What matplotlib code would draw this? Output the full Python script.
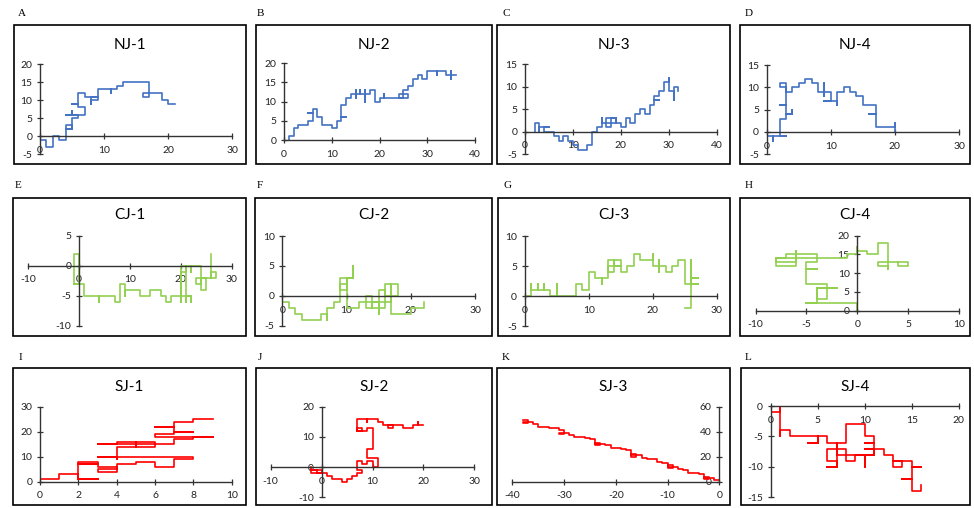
import numpy as np
import matplotlib.pyplot as plt
from matplotlib.patches import Rectangle

plt.rcParams['axes.unicode_minus'] = False
plt.rcParams['font.family'] = ['Lato', 'DejaVu Sans']

W, H = 974, 508

letters = ['A', 'B', 'C', 'D', 'E', 'F', 'G', 'H', 'I', 'J', 'K', 'L']
titles = ['NJ-1', 'NJ-2', 'NJ-3', 'NJ-4', 'CJ-1', 'CJ-2', 'CJ-3', 'CJ-4',
          'SJ-1', 'SJ-2', 'SJ-3', 'SJ-4']

# walk paths (x and y of each vertex)
nj1_x = [0, 0, 1, 1, 2, 2, 3, 3, 4, 4, 5, 5, 4, 5, 5, 6, 6, 4, 5, 5, 5, 7, 7, 6, 6, 5, 6, 6, 7, 7,
         9, 8, 8, 8, 9, 9, 11, 11, 11, 12, 12, 13, 13, 17, 17, 16, 16, 19, 19, 20, 20, 21]
nj1_y = [0, -1, -1, -3, -3, 0, 0, -1, -1, 3, 3, 2, 2, 2, 5, 5, 6, 6, 6, 7, 6, 6, 8, 8, 9, 9, 9, 12, 12, 11,
         11, 11, 9, 10, 10, 13, 13, 12, 13, 13, 14, 14, 15, 15, 11, 11, 12, 12, 10, 10, 9, 9]

nj2_x = [1, 1, 2, 2, 3, 3, 5, 5, 6, 6, 5, 6, 6, 7, 7, 8, 8, 10, 10, 11,
         11, 12, 12, 13, 12, 12, 13, 13, 14, 14, 15, 15, 15, 15, 16, 16, 16, 17, 17, 17,
         17, 18, 18, 19, 19, 20, 20, 21, 21, 21, 26, 26, 24, 24, 25, 25, 26, 26, 27, 27,
         28, 28, 29, 29, 30, 30, 32, 32, 32, 34, 34, 35, 35, 35, 35, 36]
nj2_y = [0, 1, 1, 3, 3, 4, 4, 5, 5, 7, 7, 7, 8, 8, 6, 6, 4, 4, 3, 3,
         5, 5, 6, 6, 6, 9, 9, 11, 11, 12, 12, 13, 11, 12, 12, 13, 12, 12, 10, 13,
         12, 12, 13, 13, 10, 10, 11, 11, 12, 11, 11, 12, 12, 11, 11, 13, 13, 14, 14, 16,
         16, 17, 17, 16, 16, 18, 18, 17, 18, 18, 17, 17, 16, 18, 17, 17]

nj3_x = [2, 2, 3, 3, 3, 5, 4, 4, 5, 6, 6, 7, 7, 8, 8, 9, 9, 10, 10, 11,
         11, 13, 13, 14, 14, 15, 15, 16, 16, 16, 17, 17, 18, 18, 17, 17, 19, 19, 18, 19,
         19, 20, 20, 21, 21, 22, 22, 23, 23, 24, 24, 25, 25, 26, 26, 27, 27, 28, 27, 27,
         28, 28, 29, 29, 30, 30, 30, 31, 31, 31, 32, 32]
nj3_y = [0, 2, 2, 0, 1, 1, 1, 0, 0, 0, -1, -1, -2, -2, -1, -1, -2, -2, -3, -3,
         -4, -4, -3, -3, 0, 0, 1, 1, 3, 2, 2, 1, 1, 3, 3, 2, 2, 3, 3, 3,
         2, 2, 1, 1, 3, 3, 2, 2, 4, 4, 5, 5, 4, 4, 6, 6, 7, 7, 7, 8,
         8, 9, 9, 11, 11, 12, 9, 9, 7, 10, 10, 9]

nj4_x = [0, 0, 1, 1, 1, 3, 2, 2, 3, 3, 4, 4, 4, 3, 3, 2, 3, 3, 2, 2,
         3, 3, 4, 4, 5, 5, 6, 6, 7, 7, 8, 8, 9, 9, 9, 9, 10, 10, 9, 11,
         11, 11, 12, 12, 13, 13, 14, 14, 15, 15, 17, 17, 16, 17, 17, 20, 20, 20]
nj4_y = [0, -1, -1, -2, -1, -1, -1, 3, 3, 4, 4, 5, 4, 4, 6, 6, 6, 10, 10, 11,
         11, 9, 9, 10, 10, 11, 11, 12, 12, 11, 11, 9, 9, 8, 11, 9, 9, 7, 7, 7,
         6, 9, 9, 10, 10, 9, 9, 8, 8, 6, 6, 4, 4, 4, 1, 1, 2, 0]

cj1_x = [-1, -1, 0, 0, -1, 0, 1, 1, 4, 4, 4, 7, 7, 8, 8, 9, 9, 9, 12, 12,
         14, 14, 16, 16, 17, 17, 18, 18, 22, 22, 22, 21, 21, 21, 20, 20, 20, 21, 21, 22,
         22, 22, 24, 24, 23, 23, 25, 25, 24, 24, 26, 26, 27, 27, 26, 26]
cj1_y = [-3, 2, 2, -3, -3, -3, -3, -5, -5, -6, -5, -5, -6, -6, -3, -3, -5, -4, -4, -5,
         -5, -4, -4, -5, -5, -6, -6, -5, -5, -6, -5, -5, -6, 0, 0, -6, -1, -1, 0, 0,
         -1, 0, 0, -3, -3, -2, -2, -4, -4, -2, -2, -1, -1, -2, -2, 2]

cj2_x = [0, 1, 1, 2, 2, 3, 3, 6, 6, 7, 7, 7, 8, 8, 9, 9, 10, 10, 9, 9,
         10, 10, 11, 11, 11, 10, 10, 12, 12, 13, 13, 14, 14, 13, 13, 15, 15, 15, 16, 16,
         14, 14, 17, 17, 16, 16, 18, 18, 17, 17, 17, 20, 20, 22, 22]
cj2_y = [-1, -1, -2, -2, -3, -3, -4, -4, -3, -3, -4, -2, -2, -1, -1, 3, 3, 1, 1, 2,
         2, 3, 3, 5, 3, 3, -2, -2, -1, -1, 0, 0, -2, -2, -1, -1, -3, 1, 1, -2,
         -2, -1, -1, 0, 0, 2, 2, 0, 0, 2, -3, -3, -2, -2, -1]

cj3_x = [0, 1, 1, 1, 2, 2, 2, 3, 3, 3, 4, 4, 5, 5, 5, 8, 8, 9, 9, 10,
         10, 11, 11, 12, 12, 12, 13, 13, 15, 15, 13, 13, 14, 14, 14, 15, 15, 16, 16, 17,
         17, 18, 18, 20, 20, 20, 21, 21, 21, 21, 22, 22, 23, 23, 24, 24, 25, 25, 27, 26,
         26, 27, 26, 26, 26, 25]
cj3_y = [0, 0, 2, 1, 1, 2, 1, 1, 2, 1, 1, 0, 0, 2, 0, 0, 2, 2, 1, 1,
         4, 4, 3, 3, 2, 3, 3, 6, 6, 5, 5, 4, 4, 6, 5, 5, 4, 4, 5, 5,
         7, 7, 6, 6, 7, 5, 5, 4, 6, 5, 5, 4, 4, 5, 5, 6, 6, 2, 2, 2,
         3, 3, 3, 6, -2, -2]

cj4_x = [0, 0, -5, -4, -4, -2, -4, -4, -3, -3, -5, -5, -4, -5, -5, -4, -4, -7, -7, -8,
         -8, -6, -6, -6, -8, -8, -6, -5, -1, -1, 0, 0, 0, 1, 1, 2, 2, 3, 3, 3,
         2, 2, 4, 4, 5, 5, 4]
cj4_y = [0, 2, 2, 2, 6, 6, 6, 3, 3, 7, 7, 11, 11, 11, 13, 13, 15, 15, 14, 14,
         12, 12, 16, 13, 13, 14, 14, 14, 14, 15, 15, 17, 16, 16, 15, 15, 18, 18, 11, 12,
         12, 13, 13, 12, 12, 13, 13]

sj1_x = [0, 1, 1, 2, 2, 3, 2, 2, 3, 3, 2, 3, 3, 4, 4, 3, 3, 4, 4, 5,
         5, 6, 6, 7, 7, 8, 8, 3, 4, 4, 4, 5, 5, 5, 6, 6, 4, 4, 3, 7,
         7, 8, 8, 9, 8, 6, 6, 7, 7, 8, 7, 7, 6, 7, 7, 8, 8, 9]
sj1_y = [1, 1, 3, 3, 1, 1, 1, 8, 8, 7, 7, 7, 6, 6, 4, 4, 5, 5, 7, 7,
         8, 8, 6, 6, 9, 9, 10, 10, 10, 9, 14, 14, 16, 14, 14, 16, 16, 15, 15, 15,
         17, 17, 18, 18, 18, 18, 19, 19, 20, 20, 20, 22, 22, 22, 24, 24, 25, 25]

sj2_x = [-2, -2, 0, 0, -2, -1, -1, 0, 1, 1, 2, 2, 4, 4, 5, 5, 6, 6, 7, 7,
         8, 8, 7, 7, 8, 8, 9, 9, 10, 10, 11, 11, 9, 9, 10, 10, 9, 9, 7, 7,
         8, 8, 7, 7, 9, 9, 9, 11, 11, 12, 12, 14, 14, 13, 13, 16, 16, 18, 18, 19,
         19, 19, 20]
sj2_y = [0, -2, -2, -1, -1, -1, -2, -2, -2, -3, -3, -4, -4, -5, -5, -4, -4, -3, -3, -2,
         -2, -1, -1, 2, 2, 1, 1, 2, 2, 0, 0, 3, 3, 6, 6, 13, 13, 12, 12, 13,
         13, 12, 12, 16, 16, 15, 16, 16, 15, 15, 14, 14, 13, 13, 14, 14, 13, 13, 14, 14,
         15, 14, 14]

sj3_x = [-38, -37, -37, -38, -38, -36, -36, -35, -35, -33, -33, -31, -31, -30, -30, -31, -31, -29, -29, -28,
         -28, -26, -26, -25, -25, -24, -24, -23, -23, -24, -24, -22, -22, -21, -21, -19, -19, -18, -18, -17,
         -17, -16, -16, -17, -17, -15, -15, -14, -14, -12, -12, -11, -11, -10, -10, -9, -9, -10, -10, -8,
         -8, -7, -7, -6, -6, -4, -4, -3, -3, -2, -2, -3, -3, -1, -1, 0]
sj3_y = [49, 49, 47, 47, 48, 48, 46, 46, 44, 44, 43, 43, 41, 41, 38, 38, 39, 39, 37, 37,
         36, 36, 35, 35, 34, 34, 29, 29, 31, 31, 30, 30, 29, 29, 27, 27, 26, 26, 25, 25,
         20, 20, 22, 22, 21, 21, 19, 19, 18, 18, 16, 16, 15, 15, 11, 11, 13, 13, 12, 12,
         10, 10, 9, 9, 7, 7, 6, 6, 2, 2, 4, 4, 3, 3, 1, 1]

sj4_x = [0, 0, 1, 1, 1, 1, 2, 2, 5, 5, 4, 5, 5, 6, 6, 8, 8, 10, 10, 11,
         11, 10, 11, 11, 10, 11, 11, 10, 10, 10, 7, 7, 7, 6, 7, 7, 6, 6, 8, 8,
         9, 9, 11, 11, 12, 12, 13, 13, 14, 14, 13, 15, 15, 16, 15, 15, 14, 15, 15, 16, 16]
sj4_y = [0, -1, -1, 0, -5, -4, -4, -5, -5, -6, -6, -6, -5, -5, -6, -6, -3, -3, -5, -5,
         -6, -6, -6, -7, -7, -7, -8, -8, -10, -8, -8, -6, -10, -10, -10, -9, -9, -7, -7, -9,
         -9, -8, -8, -7, -7, -8, -8, -10, -10, -9, -9, -9, -10, -10, -10, -12, -12, -12, -14, -14, -13]

paths_x = [nj1_x, nj2_x, nj3_x, nj4_x, cj1_x, cj2_x, cj3_x, cj4_x, sj1_x, sj2_x, sj3_x, sj4_x]
paths_y = [nj1_y, nj2_y, nj3_y, nj4_y, cj1_y, cj2_y, cj3_y, cj4_y, sj1_y, sj2_y, sj3_y, sj4_y]

# axis ranges and tick steps
xlims = [(0, 30), (0, 40), (0, 40), (0, 30), (-10, 30), (0, 30), (0, 30), (-10, 10),
         (0, 10), (-10, 30), (-40, 0), (0, 20)]
ylims = [(-5, 20), (0, 20), (-5, 15), (-5, 15), (-10, 5), (-5, 10), (-5, 10), (0, 20),
         (0, 30), (-10, 20), (0, 60), (-15, 0)]
xsteps = [10, 10, 10, 10, 10, 10, 10, 5, 2, 10, 10, 5]
ysteps = [5, 5, 5, 5, 5, 5, 5, 5, 10, 10, 20, 5]

colors = ['#4472C4'] * 4 + ['#92D050'] * 4 + ['#FF0000'] * 4

# layout in pixels
frames = [(14, 25, 246, 164), (256, 25, 492, 164), (497, 25, 730, 164), (740, 25, 970, 164),
          (13, 198, 246, 336), (255, 198, 492, 336), (498, 198, 730, 336), (740, 198, 970, 336),
          (13, 368, 246, 505), (256, 368, 492, 505), (497, 368, 730, 505), (741, 368, 970, 505)]
boxes = [(40, 64.3, 232.3, 154.3), (284, 63.3, 475, 140), (525, 64.3, 716.7, 154), (766.7, 65.3, 959, 154),
         (28.3, 235.7, 231.7, 325.7), (282.3, 236, 475, 325.7), (524.7, 236, 716.7, 326), (755.7, 235.7, 958.7, 310.7),
         (40, 406.7, 231.7, 481.7), (270.7, 406.7, 474.3, 497.3), (512.3, 406.7, 719.3, 481.7), (770.7, 406, 958.7, 497.3)]
letter_x = [18, 257, 502, 745, 15, 257, 503, 745, 19, 258, 502, 745]
row_letter_y = [14, 186, 358]
row_title_y = [45, 215, 387]

fig = plt.figure(figsize=(W / 100, H / 100), dpi=100)

for i in range(12):
    row = i // 4
    l, t, r, b = frames[i]
    fig.add_artist(Rectangle((l / W, 1 - b / H), (r - l) / W, (b - t) / H,
                             transform=fig.transFigure, fill=False, lw=1.2, ec='black'))
    fig.text(letter_x[i] / W, 1 - row_letter_y[row] / H, letters[i], family='Liberation Serif',
             fontsize=8, ha='left', va='center')
    fig.text((l + r) / 2 / W, 1 - row_title_y[row] / H, titles[i], fontsize=11,
             ha='center', va='center')

    bl, bt, br, bb = boxes[i]
    ax = fig.add_axes([bl / W, 1 - bb / H, (br - bl) / W, (bb - bt) / H])
    ax.patch.set_visible(False)
    ax.plot(paths_x[i], paths_y[i], color=colors[i], lw=1.2, zorder=2)
    ax.set_xlim(*xlims[i])
    ax.set_ylim(*ylims[i])
    ax.set_xticks(np.arange(xlims[i][0], xlims[i][1] + 0.1, xsteps[i]))
    ax.set_yticks(np.arange(ylims[i][0], ylims[i][1] + 0.1, ysteps[i]))
    ax.spines['left'].set_position(('data', 0))
    ax.spines['bottom'].set_position(('data', 0))
    ax.spines['top'].set_visible(False)
    ax.spines['right'].set_visible(False)
    for s in ['left', 'bottom']:
        ax.spines[s].set_color('#333333')
        ax.spines[s].set_linewidth(1.0)
        ax.spines[s].set_zorder(3)
    ax.tick_params(axis='both', direction='inout', length=5, width=0.9, color='#333333',
                   labelsize=7.5, labelcolor='#222222')
    ax.tick_params(axis='x', pad=4.5)
    ax.tick_params(axis='y', pad=3)

fig.savefig('out.png', dpi=100)
